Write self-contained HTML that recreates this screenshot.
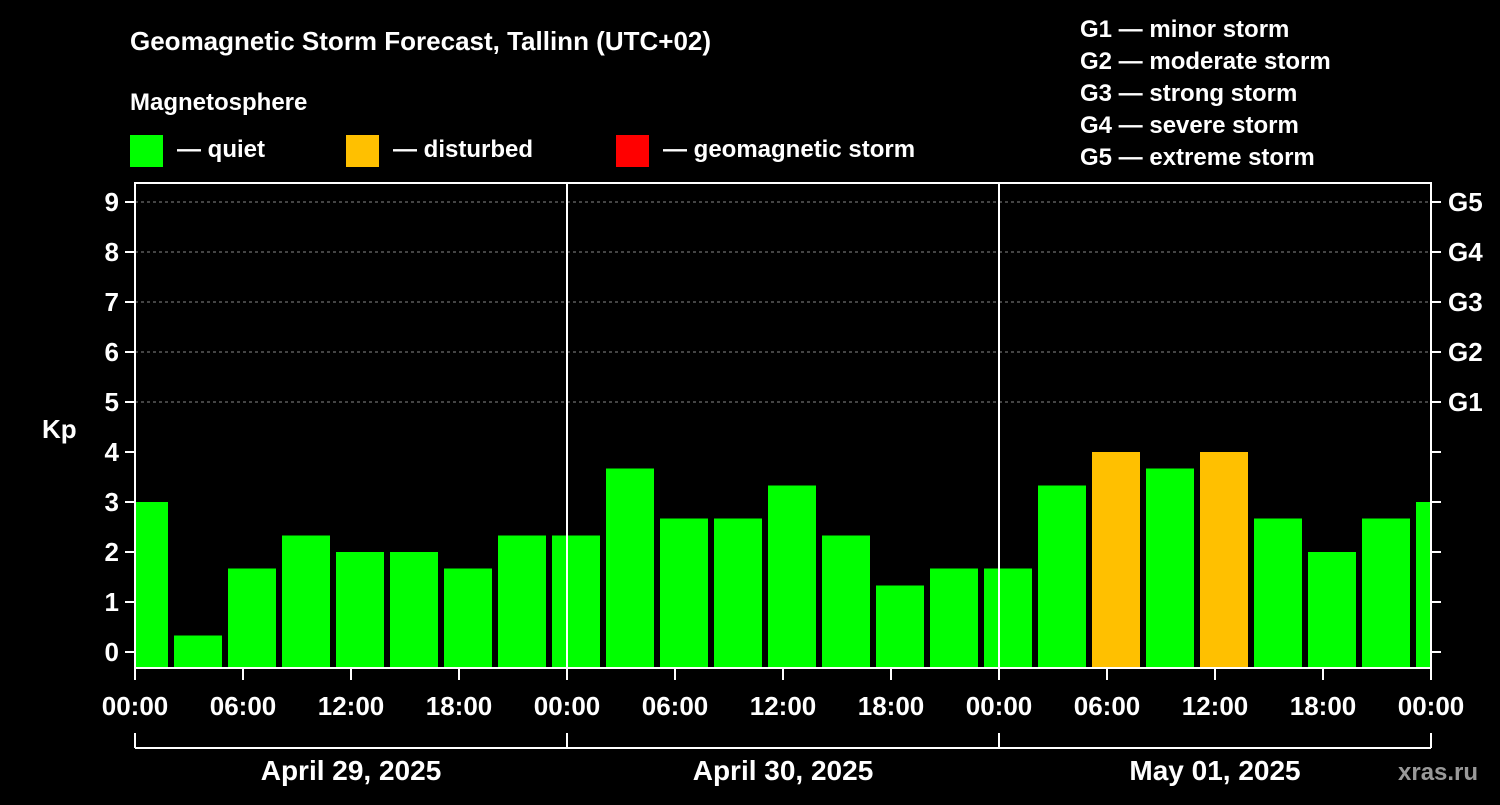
<!DOCTYPE html>
<html><head><meta charset="utf-8"><style>
body{margin:0;background:#000;width:1500px;height:800px;overflow:hidden}
svg text{font-family:"Liberation Sans",Arial,sans-serif;font-weight:bold;fill:#fff}
</style></head><body>
<svg id="c" width="1500" height="800" xmlns="http://www.w3.org/2000/svg">
<text x="130" y="50" font-size="26">Geomagnetic Storm Forecast, Tallinn (UTC+02)</text>
<text x="130" y="110" font-size="24">Magnetosphere</text>
<g><rect x="130" y="135" width="33" height="32" fill="#00ff00"/><text x="177" y="157" font-size="24">— quiet</text></g>
<g><rect x="346" y="135" width="33" height="32" fill="#ffc000"/><text x="393" y="157" font-size="24">— disturbed</text></g>
<g><rect x="616" y="135" width="33" height="32" fill="#ff0000"/><text x="663" y="157" font-size="24">— geomagnetic storm</text></g>
<g font-size="24">
<text x="1080" y="37">G1 — minor storm</text><text x="1080" y="69">G2 — moderate storm</text><text x="1080" y="101">G3 — strong storm</text><text x="1080" y="133">G4 — severe storm</text><text x="1080" y="165">G5 — extreme storm</text></g>
<text x="42" y="438" font-size="26">Kp</text>
<text x="1398" y="780" font-size="24" fill="#aaa" style="fill:#999">xras.ru</text>
<g id="grid"></g><g id="bars"></g><g id="axes"></g>
</svg>
<script>
const hours=[0.5,3.5,6.5,9.5,12.5,15.5,18.5,21.5,24.5,27.5,30.5,33.5,36.5,39.5,42.5,45.5,48.5,51.5,54.5,57.5,60.5,63.5,66.5,69.5,72.5];
const kp=[3,0.33,1.67,2.33,2,2,1.67,2.33,2.33,3.67,2.67,2.67,3.33,2.33,1.33,1.67,1.67,3.33,4,3.67,4,2.67,2,2.67,3];
const yTicks=[0,1,2,3,4,5,6,7,8,9];
const gLabels=["G1","G2","G3","G4","G5"];
const xLabels=["00:00","06:00","12:00","18:00","00:00","06:00","12:00","18:00","00:00","06:00","12:00","18:00","00:00"];
const days=["April 29, 2025","April 30, 2025","May 01, 2025"];
const L=135,R=1431,T=183,B=668;
const X=h=>L+h*18, Y=v=>652-v*50;
const NS="http://www.w3.org/2000/svg";
function mk(p,tag,a){const e=document.createElementNS(NS,tag);for(const k in a)e.setAttribute(k,a[k]);document.getElementById(p).appendChild(e);return e;}
// grid
for(let v=5;v<=9;v++){const e=mk('grid','line',{x1:L,x2:R,y1:Y(v),y2:Y(v),stroke:'#888','stroke-dasharray':'3,3'});

}
// bars
mk('bars','clipPath',{id:'cp'}).appendChild(Object.assign(document.createElementNS(NS,'rect'),{}));
document.querySelector('#cp rect').setAttribute('x',L);document.querySelector('#cp rect').setAttribute('y',T);
document.querySelector('#cp rect').setAttribute('width',R-L);document.querySelector('#cp rect').setAttribute('height',B-T);
hours.forEach((h,i)=>{const v=kp[i];const e=mk('bars','rect',{x:X(h)-24,y:Y(v),width:48,height:B-Y(v),fill:v>=5?'#ff0000':v>=4?'#ffc000':'#00ff00','clip-path':'url(#cp)'});

});
// axes
const f=mk('axes','rect',{x:L,y:T,width:R-L,height:B-T,fill:'none',stroke:'#fff','stroke-width':2});


[24,48].forEach(h=>mk('axes','line',{x1:X(h),x2:X(h),y1:T,y2:B,stroke:'#fff','stroke-width':2}));
yTicks.forEach(v=>{mk('axes','line',{x1:L-10,x2:L,y1:Y(v),y2:Y(v),stroke:'#fff','stroke-width':2});
mk('axes','line',{x1:R,x2:R+10,y1:Y(v),y2:Y(v),stroke:'#fff','stroke-width':2});
const t=mk('axes','text',{x:L-16,y:Y(v)+9,'font-size':26,'text-anchor':'end'});t.textContent=v;

});
gLabels.forEach((g,i)=>{const t=mk('axes','text',{x:1448,y:Y(5+i)+9,'font-size':26});t.textContent=g;

});
xLabels.forEach((s,i)=>{const x=X(i*6);mk('axes','line',{x1:x,x2:x,y1:B,y2:B+12,stroke:'#fff','stroke-width':2});
const t=mk('axes','text',{x:x,y:715,'font-size':26,'text-anchor':'middle'});t.textContent=s;

});
mk('axes','line',{x1:L,x2:R,y1:748,y2:748,stroke:'#fff','stroke-width':2});
[0,24,48,72].forEach(h=>mk('axes','line',{x1:X(h),x2:X(h),y1:733,y2:748,stroke:'#fff','stroke-width':2}));
days.forEach((d,i)=>{const t=mk('axes','text',{x:X(i*24+12),y:780,'font-size':28,'text-anchor':'middle'});t.textContent=d;

});
</script>
</body></html>
